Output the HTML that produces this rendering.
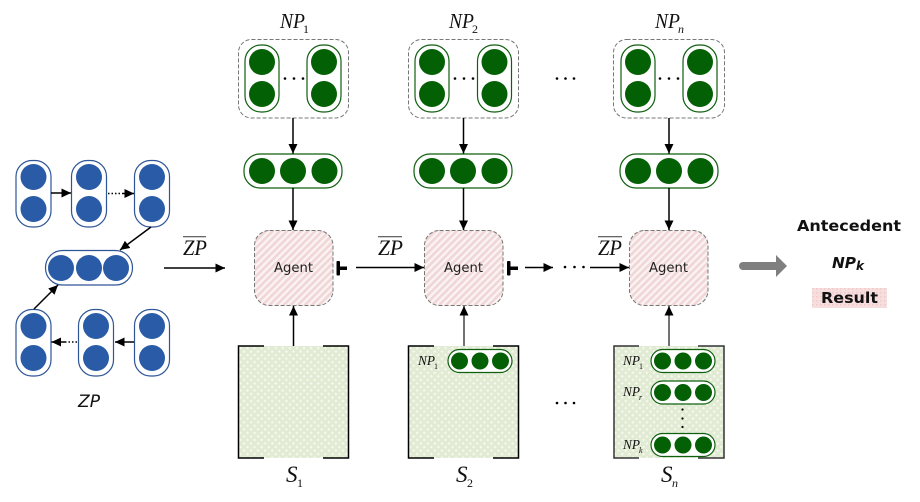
<!DOCTYPE html>
<html><head><meta charset="utf-8"><style>
html,body{margin:0;padding:0;background:#fff;width:920px;height:502px;overflow:hidden}
svg{display:block}
.s{font-family:"Liberation Serif",serif;font-style:italic;fill:#111}
.b{fill:#295ba7}.g{fill:#046004}
.pb{fill:#fff;stroke:#2f5597;stroke-width:1.2}
.pg{fill:#fff;stroke:#0f5f0f;stroke-width:1.2}
.l{stroke:#000;stroke-width:1.5;fill:none}
.d{fill:none;stroke:#777;stroke-width:1;stroke-dasharray:4 2}
.ag{fill:url(#pink);stroke:#777;stroke-width:1;stroke-dasharray:4 2}
.c{stroke:#000;stroke-width:1.5;fill:none}
.dv{font-family:"DejaVu Sans",sans-serif}
</style></head><body>
<svg width="920" height="502" viewBox="0 0 920 502" xmlns="http://www.w3.org/2000/svg">
<defs>
<pattern id="pink" width="5" height="5" patternUnits="userSpaceOnUse" patternTransform="rotate(-45)">
<rect width="5" height="5" fill="#fbf3f3"/><rect width="5" height="2.6" fill="#f0d6d6"/></pattern>
<pattern id="grn" width="5" height="5" patternUnits="userSpaceOnUse" patternTransform="rotate(45)">
<rect width="5" height="5" fill="#e1ebd3"/><rect width="2.2" height="2.2" fill="#f5f8ef"/></pattern>
<pattern id="res" width="4" height="4" patternUnits="userSpaceOnUse">
<rect width="4" height="4" fill="#f7dede"/><rect width="1.5" height="1.5" fill="#f0c8c8"/></pattern>
<marker id="a" markerUnits="userSpaceOnUse" markerWidth="11" markerHeight="10" refX="9.500" refY="4.500" orient="auto"><path d="M0 0L9.500 4.500L0 9z" fill="#000"/></marker>
<g id="v2b"><rect x="-17.500" y="-16.500" width="35" height="66.500" rx="16" class="pb"/><circle cy="0" r="13" class="b" cx="0"/><circle cx="0" cy="32" r="13" class="b"/></g>
<g id="v2g"><rect x="-17" y="-17" width="34" height="67" rx="16" class="pg"/><circle r="13" class="g"/><circle cy="32" r="13" class="g"/></g>
<g id="h3g"><rect x="-49" y="-17" width="98" height="34" rx="16" class="pg"/><circle cx="-31" r="13" class="g"/><circle r="13" class="g"/><circle cx="31.500" r="13" class="g"/></g>
<g id="sm"><rect x="-32" y="-11.500" width="64" height="23" rx="11.500" class="pg"/><circle cx="-20.500" r="8.500" class="g"/><circle r="8.500" class="g"/><circle cx="20.500" r="8.500" class="g"/></g>
</defs>

<!-- ZP cluster -->
<use href="#v2b" x="33.500" y="177"/><use href="#v2b" x="89" y="177"/><use href="#v2b" x="152" y="177"/>
<use href="#v2b" x="33.500" y="326"/><use href="#v2b" x="96" y="326"/><use href="#v2b" x="152" y="326"/>
<rect x="45.500" y="250.500" width="87" height="34.500" rx="17" class="pb"/>
<circle cx="61" cy="268" r="13" class="b"/><circle cx="89" cy="268" r="13" class="b"/><circle cx="116" cy="268" r="13" class="b"/>
<path d="M51 193H71" class="l" marker-end="url(#a)"/>
<path d="M108 193.500H122" class="l" stroke-dasharray="1.500 2"/><path d="M122 193.500H134" class="l" marker-end="url(#a)"/>
<path d="M151 227L120 250" class="l" marker-end="url(#a)"/>
<path d="M34 309L58 285" class="l" marker-end="url(#a)"/>
<path d="M134 342H115" class="l" marker-end="url(#a)"/>
<path d="M77 342H66" class="l" stroke-dasharray="1.500 2"/><path d="M66 342H51.500" class="l" marker-end="url(#a)"/>
<text x="78" y="407" class="dv" font-style="italic" font-size="17" fill="#111" textLength="22" lengthAdjust="spacingAndGlyphs">ZP</text>
<path d="M164 268H225" class="l" marker-end="url(#a)"/>

<!-- ZP bars -->
<g fill="#666"><rect x="183" y="236" width="23" height="1.300"/><rect x="378" y="236" width="24" height="1.300"/><rect x="598" y="236" width="24" height="1.300"/></g>
<text x="183" y="255" class="s" font-size="22" textLength="24" lengthAdjust="spacingAndGlyphs">ZP</text>
<text x="378" y="255" class="s" font-size="22" textLength="25" lengthAdjust="spacingAndGlyphs">ZP</text>
<text x="598" y="255" class="s" font-size="22" textLength="24" lengthAdjust="spacingAndGlyphs">ZP</text>

<!-- Titles -->
<text x="280" y="28" class="s" font-size="21" textLength="25" lengthAdjust="spacingAndGlyphs">NP</text><text x="303" y="33" class="s" font-size="12" style="font-style:normal">1</text>
<text x="449" y="28" class="s" font-size="21" textLength="25" lengthAdjust="spacingAndGlyphs">NP</text><text x="472" y="33" class="s" font-size="12" style="font-style:normal">2</text>
<text x="655" y="28" class="s" font-size="21" textLength="25" lengthAdjust="spacingAndGlyphs">NP</text><text x="678" y="33" class="s" font-size="12">n</text>

<!-- NP columns -->
<rect x="238.500" y="39.500" width="110" height="78.500" rx="13" class="d"/>
<rect x="408.500" y="39.500" width="110" height="78.500" rx="13" class="d"/>
<rect x="613.500" y="39.500" width="111" height="78.500" rx="13" class="d"/>
<use href="#v2g" x="262" y="62"/><use href="#v2g" x="324" y="62"/>
<use href="#v2g" x="432" y="62"/><use href="#v2g" x="494.500" y="62"/>
<use href="#v2g" x="638" y="62"/><use href="#v2g" x="700" y="62"/>
<use href="#h3g" x="293" y="171"/><use href="#h3g" x="463" y="171"/><use href="#h3g" x="669" y="171"/>
<g class="l"><path d="M293 118V153.500" marker-end="url(#a)"/><path d="M293 188V230" marker-end="url(#a)"/>
<path d="M463.500 118V153.500" marker-end="url(#a)"/><path d="M463.500 188V230" marker-end="url(#a)"/>
<path d="M669 118V153.500" marker-end="url(#a)"/><path d="M669 188V230" marker-end="url(#a)"/></g>

<!-- Agents -->
<rect x="254.500" y="230.500" width="78.500" height="75" rx="15" class="ag"/>
<rect x="424.500" y="230.500" width="78.500" height="75" rx="15" class="ag"/>
<rect x="629.500" y="230.500" width="78.500" height="75" rx="15" class="ag"/>
<g class="dv" font-size="13" fill="#222">
<text x="274" y="272" textLength="39" lengthAdjust="spacingAndGlyphs">Agent</text>
<text x="444" y="272" textLength="39" lengthAdjust="spacingAndGlyphs">Agent</text>
<text x="649" y="272" textLength="39" lengthAdjust="spacingAndGlyphs">Agent</text>
</g>
<!-- stops -->
<g fill="#000"><rect x="336.500" y="261" width="3.500" height="14.500" rx="1"/><rect x="339" y="266.500" width="8" height="3.500"/>
<rect x="507" y="261" width="3.500" height="14.500" rx="1"/><rect x="510" y="266.500" width="8" height="3.500"/></g>
<g class="l">
<path d="M356 267.500H424" marker-end="url(#a)"/>
<path d="M525 267.500H553" marker-end="url(#a)"/>
<path d="M590 267.500H629" marker-end="url(#a)"/>
<path d="M293.500 346V306" marker-end="url(#a)"/>
<path d="M464 346V306" stroke="#555" style="stroke:#444" marker-end="url(#a)"/>
<path d="M669 346V306" style="stroke:#444" marker-end="url(#a)"/>
</g>

<!-- S boxes -->
<rect x="238" y="346" width="110.500" height="112" fill="url(#grn)"/>
<rect x="408" y="346" width="111" height="112" fill="url(#grn)"/>
<rect x="614" y="346" width="110" height="112" fill="url(#grn)"/>
<path class="c" d="M264 346H238.500V458H264M323 346H348.500V458H323"/>
<path class="c" d="M434 346H408.500V458H434M493 346H518.500V458H493"/>
<path class="c" style="stroke:#333" d="M639 346H614V458H639M698 346H724V458H698"/>
<use href="#sm" x="480" y="361"/>
<use href="#sm" x="683" y="361"/><use href="#sm" x="683" y="392.500"/><use href="#sm" x="683" y="445"/>
<text x="418" y="365" class="s" font-size="14" textLength="17" lengthAdjust="spacingAndGlyphs">NP</text><text x="434" y="369" class="s" font-size="8" style="font-style:normal">1</text>
<text x="623" y="365" class="s" font-size="14" textLength="17" lengthAdjust="spacingAndGlyphs">NP</text><text x="639" y="369" class="s" font-size="8" style="font-style:normal">1</text>
<text x="623" y="396" class="s" font-size="14" textLength="17" lengthAdjust="spacingAndGlyphs">NP</text><text x="639" y="400" class="s" font-size="8">r</text>
<text x="623" y="449" class="s" font-size="14" textLength="17" lengthAdjust="spacingAndGlyphs">NP</text><text x="639" y="453" class="s" font-size="8">k</text>
<text x="286" y="482" class="s" font-size="23">S</text><text x="297" y="487" class="s" font-size="12" style="font-style:normal">1</text>
<text x="456" y="482" class="s" font-size="23">S</text><text x="467" y="487" class="s" font-size="12" style="font-style:normal">2</text>
<text x="661" y="482" class="s" font-size="23">S</text><text x="672" y="487" class="s" font-size="12">n</text>

<!-- dots (drawn on top of the boxes) -->
<g fill="#000"><circle cx="285" cy="78.500" r="1.300"/><circle cx="294" cy="78.500" r="1.300"/><circle cx="303" cy="78.500" r="1.300"/>
<circle cx="455" cy="78.500" r="1.300"/><circle cx="464" cy="78.500" r="1.300"/><circle cx="473" cy="78.500" r="1.300"/>
<circle cx="660" cy="78.500" r="1.300"/><circle cx="669" cy="78.500" r="1.300"/><circle cx="678" cy="78.500" r="1.300"/>
<circle cx="557" cy="78.500" r="1.300"/><circle cx="565.500" cy="78.500" r="1.300"/><circle cx="574" cy="78.500" r="1.300"/>
<circle cx="565" cy="267" r="1.300"/><circle cx="574.500" cy="267" r="1.300"/><circle cx="583.500" cy="267" r="1.300"/>
<circle cx="557" cy="403" r="1.300"/><circle cx="565.500" cy="403" r="1.300"/><circle cx="574" cy="403" r="1.300"/>
<circle cx="682.500" cy="409.500" r="1.100"/><circle cx="682.500" cy="418.500" r="1.100"/><circle cx="682.500" cy="427" r="1.100"/></g>

<!-- Result -->
<path d="M743 266H778" stroke="#7f7f7f" stroke-width="8" stroke-linecap="round"/>
<path d="M776 255L787 266L776 277z" fill="#7f7f7f"/>
<g class="dv" font-weight="bold" fill="#111">
<text x="797" y="231" font-size="15" textLength="104" lengthAdjust="spacingAndGlyphs">Antecedent</text>
<text x="832" y="268" font-size="15" font-style="italic" textLength="24" lengthAdjust="spacingAndGlyphs">NP</text>
<text x="856" y="270" font-size="12" font-style="italic">k</text>
<rect x="812" y="288" width="75" height="20" fill="url(#res)" stroke="none"/>
<text x="821" y="303" font-size="15" textLength="57" lengthAdjust="spacingAndGlyphs">Result</text>
</g>
</svg>
</body></html>
